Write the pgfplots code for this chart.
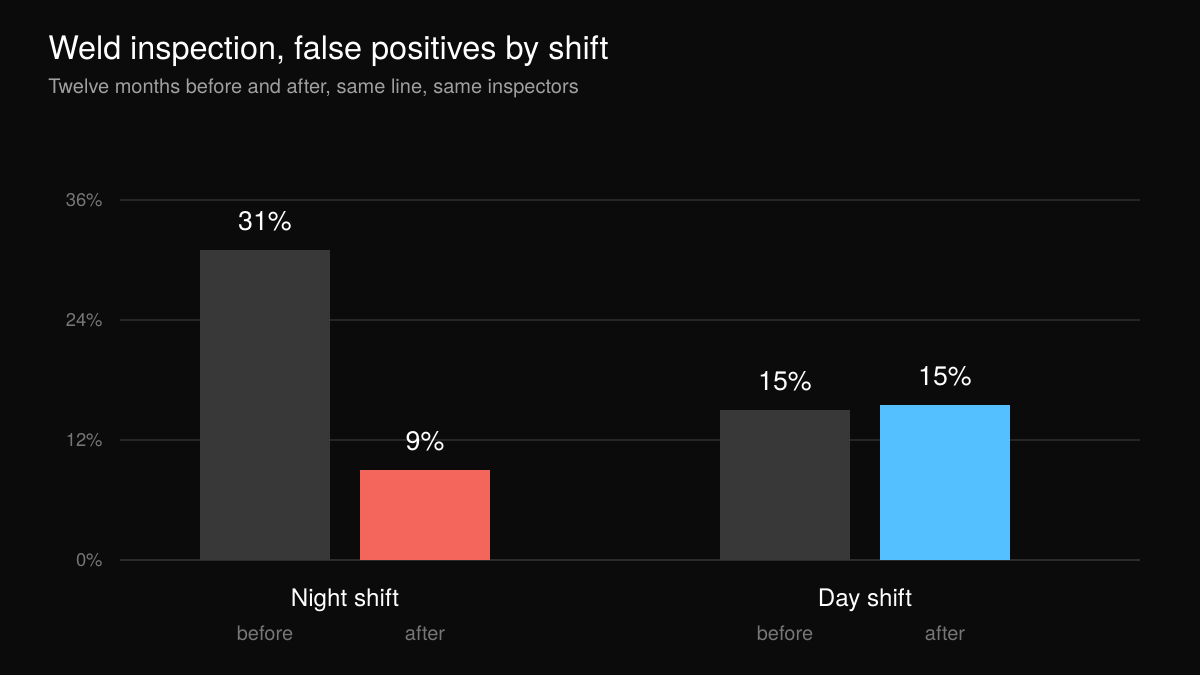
\documentclass[border=0pt]{standalone}
\usepackage{fontspec}
\setmainfont{TeX Gyre Heros}
\usepackage{pgfplots}
\pgfplotsset{compat=1.18}
\definecolor{bg}{HTML}{0B0B0B}
\definecolor{gridc}{HTML}{262626}
\definecolor{basec}{HTML}{2C2C2C}
\definecolor{barg}{HTML}{383838}
\definecolor{barr}{HTML}{F4665C}
\definecolor{barb}{HTML}{55C0FF}
\definecolor{subg}{HTML}{A0A0A0}
\definecolor{tickg}{HTML}{767676}
\begin{document}
\begin{tikzpicture}
\fill[bg] (0,0) rectangle (600pt,337.5pt);
\node[anchor=base west, text=white, font=\fontsize{16.2}{18}\selectfont, inner sep=0] at (24pt,307.5pt) {Weld inspection, false positives by shift};
\node[anchor=base west, text=subg, font=\fontsize{10}{12}\selectfont, inner sep=0] at (24pt,290.5pt) {Twelve months before and after, same line, same inspectors};
\begin{axis}[
  at={(60pt,57.5pt)}, anchor=south west,
  width=510pt, height=180pt, scale only axis,
  xmin=120, xmax=1140, ymin=0, ymax=36,
  axis line style={draw=none},
  xtick=\empty,
  ytick={0,12,24,36},
  yticklabels={0\%,12\%,24\%,36\%},
  major tick length=0pt,
  yticklabel style={text=tickg, font=\fontsize{9.2}{11}\selectfont, anchor=east, inner sep=0pt, xshift=-8.5pt},
  ymajorgrids,
  grid style={draw=gridc, line width=1pt},
  clip=false,
  point meta=explicit symbolic,
  nodes near coords,
  every node near coord/.append style={text=white, font=\fontsize{13.4}{15}\selectfont, anchor=center, yshift=14.5pt},
]
\draw[basec, line width=1pt] (axis cs:120,0) -- (axis cs:1140,0);
\addplot[ybar, bar width=130, bar shift=0pt, fill=barg, draw=none] coordinates {(265,31) [31\%]};
\addplot[ybar, bar width=130, bar shift=0pt, fill=barr, draw=none] coordinates {(425,9) [9\%]};
\addplot[ybar, bar width=130, bar shift=0pt, fill=barg, draw=none] coordinates {(785,15) [15\%]};
\addplot[ybar, bar width=130, bar shift=0pt, fill=barb, draw=none] coordinates {(945,15.5) [15\%]};
\node[text=white, font=\fontsize{12.1}{14}\selectfont] at (axis cs:345,-4.0) {Night shift};
\node[text=white, font=\fontsize{12.1}{14}\selectfont] at (axis cs:865,-4.0) {Day shift};
\node[text=tickg, font=\fontsize{10}{12}\selectfont] at (axis cs:265,-7.3) {before};
\node[text=tickg, font=\fontsize{10}{12}\selectfont] at (axis cs:425,-7.3) {after};
\node[text=tickg, font=\fontsize{10}{12}\selectfont] at (axis cs:785,-7.3) {before};
\node[text=tickg, font=\fontsize{10}{12}\selectfont] at (axis cs:945,-7.3) {after};
\end{axis}
\end{tikzpicture}
\end{document}
